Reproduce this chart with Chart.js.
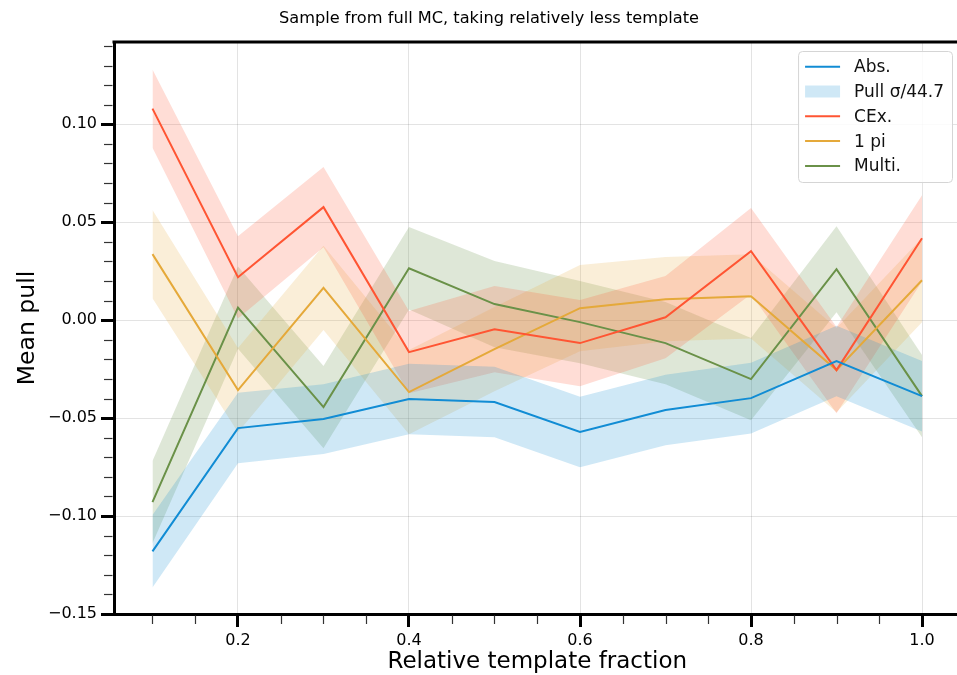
<!DOCTYPE html>
<html><head><meta charset="utf-8">
<script src="https://cdn.jsdelivr.net/npm/chart.js@4/dist/chart.umd.min.js"></script>
<style>
html,body{margin:0;padding:0;overflow:hidden;background:#fff;width:957px;height:675px}
#wrap{position:absolute;left:0;top:0;width:978px;height:675px}
</style>
</head><body><div id="wrap"><canvas id="c" width="978" height="675"></canvas></div>
<script>
// ---- data ----
const xValues = [0.1, 0.2, 0.3, 0.4, 0.5, 0.6, 0.7, 0.8, 0.9, 1.0];
const absMean = [-0.118, -0.0551, -0.0505, -0.0403, -0.0418, -0.0571, -0.0459, -0.0398, -0.0209, -0.0388];
const absErr  = [0.0185, 0.018, 0.0178, 0.018, 0.018, 0.018, 0.018, 0.018, 0.018, 0.018];
const cexMean = [0.108, 0.0219, 0.0577, -0.0163, -0.0046, -0.0117, 0.0015, 0.0352, -0.0255, 0.0418];
const cexErr  = [0.020, 0.021, 0.0205, 0.021, 0.022, 0.022, 0.021, 0.022, 0.022, 0.022];
const piMean  = [0.0337, -0.0357, 0.0165, -0.0367, -0.0148, 0.0061, 0.0107, 0.0122, -0.0255, 0.0204];
const piErr   = [0.0225, 0.0215, 0.0215, 0.0215, 0.0215, 0.022, 0.0215, 0.0215, 0.0215, 0.0215];
const multiMean = [-0.0929, 0.0064, -0.0444, 0.0265, 0.0082, -0.001, -0.0117, -0.0301, 0.026, -0.0388];
const multiErr  = [0.021, 0.021, 0.021, 0.021, 0.022, 0.021, 0.021, 0.021, 0.022, 0.021];

const seriesNames = ['Abs.', 'CEx.', '1 pi', 'Multi.'];
const legendLabels = ['Abs.', 'Pull \u03c3/44.7', 'CEx.', '1 pi', 'Multi.'];
const xMajorTicks = [0.2, 0.4, 0.6, 0.8, 1.0];
const xMinorTicks = [0.1, 0.15, 0.25, 0.3, 0.35, 0.45, 0.5, 0.55, 0.65, 0.7, 0.75, 0.85, 0.9, 0.95];
const yMajorTicks = [-0.15, -0.10, -0.05, 0.00, 0.05, 0.10];
const yMinorTicks = [-0.14,-0.13,-0.12,-0.11,-0.09,-0.08,-0.07,-0.06,-0.04,-0.03,-0.02,-0.01,0.01,0.02,0.03,0.04,0.06,0.07,0.08,0.09,0.11,0.12,0.13,0.14];

// ---- styles ----
const lineColors = ['#118cd4', '#ff5533', '#e5a93a', '#6a9148'];
const bandColors = ['rgba(17,140,212,0.2)', 'rgba(255,85,51,0.2)', 'rgba(229,169,58,0.2)', 'rgba(106,145,72,0.22)'];
const FONT = '"DejaVu Sans", sans-serif';

const means = [absMean, cexMean, piMean, multiMean];
const errs = [absErr, cexErr, piErr, multiErr];

const datasets = [];
// lines first (drawn on top)
means.forEach((m, s) => {
  datasets.push({
    label: seriesNames[s], data: xValues.map((x, i) => ({x, y: m[i]})),
    borderColor: lineColors[s], borderWidth: 2, pointRadius: 0, fill: false, tension: 0
  });
});
means.forEach((m, s) => {
  const e = errs[s];
  datasets.push({
    label: seriesNames[s] + ' lo', data: xValues.map((x, i) => ({x, y: m[i] - e[i]})),
    borderWidth: 0, borderColor: 'rgba(0,0,0,0)', pointRadius: 0, fill: false
  });
  datasets.push({
    label: seriesNames[s] + ' hi', data: xValues.map((x, i) => ({x, y: m[i] + e[i]})),
    borderWidth: 0, borderColor: 'rgba(0,0,0,0)', pointRadius: 0, fill: '-1', backgroundColor: bandColors[s]
  });
});

const fmtY = v => (v < 0 ? '\u2212' : '') + Math.abs(v).toFixed(2);

const extrasPlugin = {
  id: 'extras',
  afterDraw(chart) {
    const {ctx, chartArea} = chart;
    const xs = chart.scales.x, ys = chart.scales.y;
    ctx.save();
    // top spine
    ctx.strokeStyle = '#000'; ctx.lineWidth = 3;
    ctx.beginPath(); ctx.moveTo(chartArea.left - 1.5, chartArea.top); ctx.lineTo(chartArea.right, chartArea.top); ctx.stroke();
    // minor ticks
    ctx.strokeStyle = '#333'; ctx.lineWidth = 1.2;
    xMinorTicks.forEach(v => {
      const px = Math.round(xs.getPixelForValue(v)) + 0.5;
      ctx.beginPath(); ctx.moveTo(px, chartArea.bottom + 1.5); ctx.lineTo(px, chartArea.bottom + 10); ctx.stroke();
    });
    yMinorTicks.forEach(v => {
      const py = Math.round(ys.getPixelForValue(v)) + 0.5;
      ctx.beginPath(); ctx.moveTo(chartArea.left - 1.5, py); ctx.lineTo(chartArea.left - 10, py); ctx.stroke();
    });
    // legend
    ctx.font = '17px ' + FONT;
    const maxW = Math.max(...legendLabels.map(t => ctx.measureText(t).width));
    const padX = 7, handleW = 35, gap = 14, rowH = 24.8, padTop = 15.7;
    const w = padX + handleW + gap + maxW + 8;
    const h = 131;
    const right = chartArea.right - 8.5, top = chartArea.top + 9;
    const left = right - w;
    ctx.beginPath();
    ctx.roundRect(left + 0.5, top + 0.5, w, h, 4);
    ctx.fillStyle = 'rgba(255,255,255,0.85)'; ctx.fill();
    ctx.strokeStyle = '#d5d5d5'; ctx.lineWidth = 1; ctx.stroke();
    const kinds = ['line', 'patch', 'line', 'line', 'line'];
    const lcol = [lineColors[0], bandColors[0], lineColors[1], lineColors[2], lineColors[3]];
    legendLabels.forEach((t, i) => {
      const cy = top + padTop + i * rowH;
      if (kinds[i] === 'patch') {
        ctx.fillStyle = lcol[i];
        ctx.fillRect(left + padX, cy - 6, handleW, 12);
      } else {
        ctx.strokeStyle = lcol[i]; ctx.lineWidth = 2;
        ctx.beginPath(); ctx.moveTo(left + padX, cy); ctx.lineTo(left + padX + handleW, cy); ctx.stroke();
      }
      ctx.fillStyle = '#111'; ctx.textBaseline = 'middle'; ctx.textAlign = 'left';
      ctx.fillText(t, left + padX + handleW + gap, cy + 1);
    });
    ctx.restore();
  }
};

new Chart(document.getElementById('c'), {
  type: 'line',
  data: {datasets},
  plugins: [extrasPlugin],
  options: {
    responsive: false, animation: false, devicePixelRatio: 1,
    layout: {padding: {left: 17.5, right: 17.5, top: 0, bottom: 0}},
    plugins: {
      legend: {display: false},
      tooltip: {enabled: false},
      filler: {drawTime: 'beforeDatasetsDraw'},
      title: {
        display: true, text: 'Sample from full MC, taking relatively less template',
        color: '#000', font: {family: FONT, size: 16.2, weight: 'normal', lineHeight: 1.2},
        padding: {top: 9, bottom: 13.56}
      }
    },
    scales: {
      x: {
        type: 'linear', min: 0.055, max: 1.045,
        afterBuildTicks: sc => { sc.ticks = xMajorTicks.map(v => ({value: v})); },
        afterFit: sc => { sc.height = 61; },
        ticks: {autoSkip: false, maxRotation: 0, color: '#000', font: {family: FONT, size: 16}, padding: 4,
          callback: v => v.toFixed(1)},
        grid: {color: 'rgba(0,0,0,0.11)', lineWidth: 1, tickColor: '#000', tickLength: 13, tickWidth: 3},
        border: {display: true, color: '#000', width: 3},
        title: {display: true, text: 'Relative template fraction', color: '#000',
          font: {family: FONT, size: 23, lineHeight: 1}, padding: {top: 0, bottom: 1}}
      },
      y: {
        type: 'linear', min: -0.15, max: 0.142,
        afterBuildTicks: sc => { sc.ticks = yMajorTicks.map(v => ({value: v})); },
        afterFit: sc => { sc.width = 96.5; },
        ticks: {autoSkip: false, color: '#000', font: {family: FONT, size: 16}, padding: 4, callback: v => fmtY(v)},
        grid: {color: 'rgba(0,0,0,0.11)', lineWidth: 1, tickColor: '#000', tickLength: 13, tickWidth: 3},
        border: {display: true, color: '#000', width: 3},
        title: {display: true, text: 'Mean pull', color: '#000',
          font: {family: FONT, size: 23.5, lineHeight: 0.8}, padding: {top: 1.1, bottom: 0}}
      }
    }
  }
});
</script>
</body></html>
